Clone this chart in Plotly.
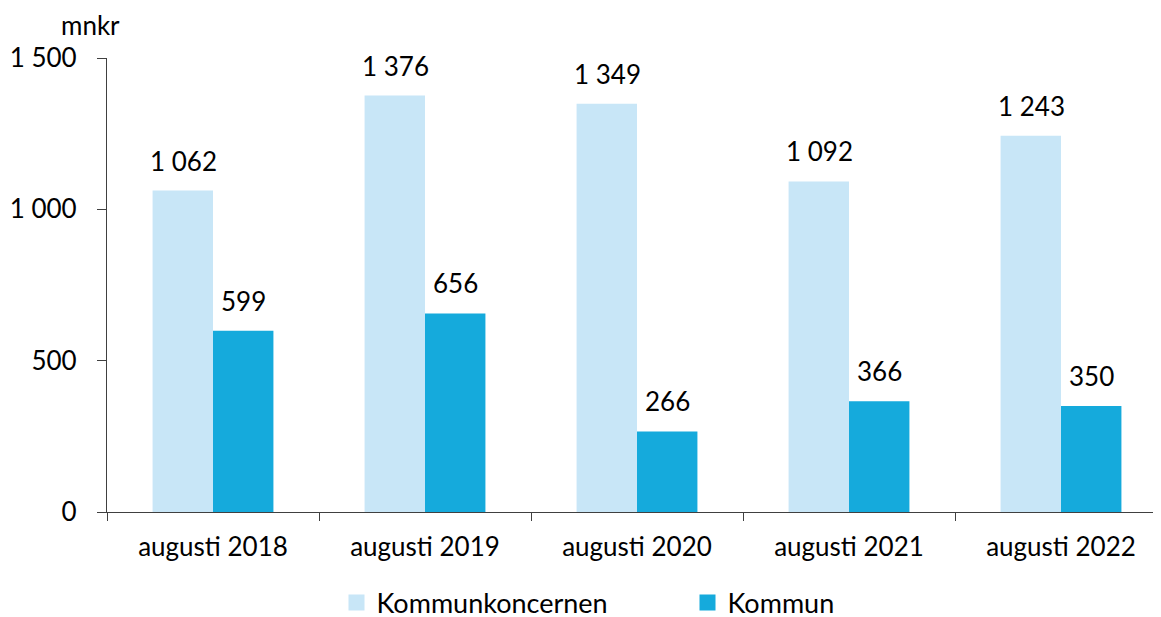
import plotly.graph_objects as go

categories = ["augusti 2018", "augusti 2019", "augusti 2020", "augusti 2021", "augusti 2022"]
koncernen = [1062, 1376, 1349, 1092, 1243]
kommun = [599, 656, 266, 366, 350]
series_names = ["Kommunkoncernen", "Kommun"]
colors = ["#C8E6F7", "#15AADC"]

FONT = "Lato"
FS = 26
W, H = 1153, 609
L, T, B = 99, 50, 105
PW = W - L
fig = go.Figure()
fig.add_trace(go.Bar(x=categories, y=koncernen, name=series_names[0], marker_color=colors[0],
                     marker_line_width=0, showlegend=False))
fig.add_trace(go.Bar(x=categories, y=kommun, name=series_names[1], marker_color=colors[1],
                     marker_line_width=0, showlegend=False))
# legend entries with square swatches
for name, col in zip(series_names, colors):
    fig.add_trace(go.Scatter(x=[None], y=[None], mode="markers", name=name,
                             marker=dict(symbol="square", size=16, color=col, line_width=0)))

annotations = []
for vals, shift in [(koncernen, -30), (kommun, 30)]:
    for c, v in zip(categories, vals):
        annotations.append(dict(x=c, y=v, xref="x", yref="y", text=f"{v:,}".replace(",", " "),
                                showarrow=False, yanchor="bottom", xshift=shift, yshift=12,
                                font=dict(family=FONT, size=FS, color="black")))
annotations.append(dict(xref="paper", yref="paper", x=(90 - 107) / PW, y=(512 - 25) / 454,
                        xanchor="center", yanchor="middle", text="mnkr", showarrow=False,
                        font=dict(family=FONT, size=FS, color="black")))

fig.update_layout(
    width=W, height=H,
    margin=dict(l=L, r=0, t=T, b=B, autoexpand=False),
    paper_bgcolor="white", plot_bgcolor="white",
    barmode="group", bargap=0.43, bargroupgap=0,
    separators=", ",
    font=dict(family=FONT, size=FS, color="black"),
    showlegend=True,
    legend=dict(orientation="h", x=(687.5 - 107) / PW, xanchor="center", xref="paper",
                y=(512 - 603) / 454, yanchor="middle", yref="paper",
                font=dict(family=FONT, size=27, color="black"),
                entrywidth=306, entrywidthmode="pixels", itemsizing="trace"),
    annotations=annotations,
    xaxis=dict(type="category", range=[-0.5, -0.5 + PW / 212], showline=True,
               linecolor="#404040", linewidth=1.3, ticks="outside", tickson="boundaries",
               ticklen=8, tickcolor="#404040", showgrid=False, ticklabelstandoff=12, automargin=False,
               tickfont=dict(family=FONT, size=FS, color="black")),
    yaxis=dict(range=[0, 1500], tickvals=[0, 500, 1000, 1500], tickformat=",", showline=True,
               linecolor="#404040", linewidth=1.3, ticks="outside", ticklen=9, tickcolor="#404040",
               showgrid=False, zeroline=False, ticklabelstandoff=15, automargin=False,
               tickfont=dict(family=FONT, size=FS, color="black")),
)
fig.write_html("out.html")
